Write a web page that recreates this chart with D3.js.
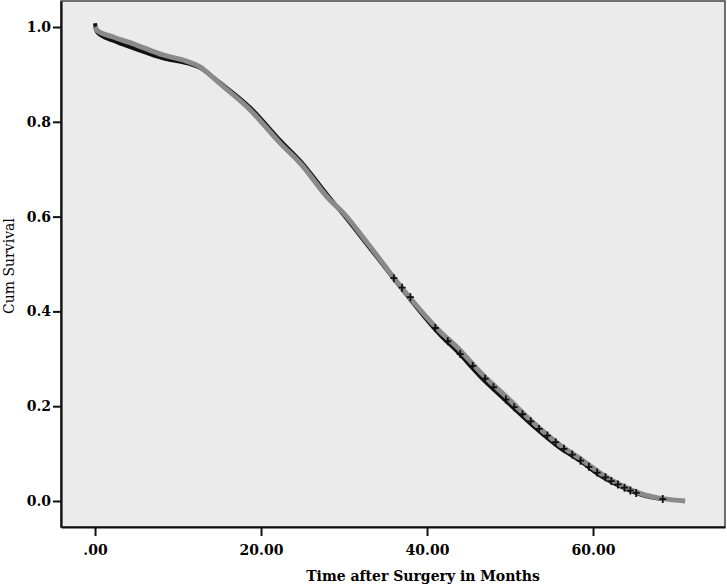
<!DOCTYPE html>
<html>
<head>
<meta charset="utf-8">
<script src="https://cdn.jsdelivr.net/npm/d3@7"></script>
<style>
  body { margin: 0; background: #fff; }
  svg { display: block; }
</style>
</head>
<body>
<div id="graph_container"></div>
<script>
// survival curves: [months, cum survival]
const grayCurve = [
  [0, 1.0], [0.3, 0.992], [2.2, 0.979], [5, 0.962], [8.2, 0.941], [11, 0.928],
  [12.65, 0.916], [14.2, 0.894], [15.1, 0.88], [18.7, 0.825], [22.3, 0.755],
  [24.7, 0.713], [28.3, 0.635], [29.8, 0.61], [33, 0.54], [36.4, 0.462],
  [41.6, 0.357], [43.6, 0.325], [46.5, 0.27], [49.6, 0.219], [53, 0.162],
  [56, 0.118], [58.4, 0.09], [61, 0.057], [63.5, 0.032], [66, 0.014],
  [68.4, 0.005], [71.1, 0.0]
];
const blackCurve = [
  [0, 1.008], [0.1, 0.996], [0.3, 0.988], [2.2, 0.971], [5, 0.953], [8.2, 0.934],
  [11, 0.924], [12.65, 0.914], [14.2, 0.894], [15.1, 0.882], [18.7, 0.83],
  [22.3, 0.761], [24.7, 0.718], [28.3, 0.639], [29.8, 0.607], [33, 0.536],
  [36.4, 0.46], [41.6, 0.35], [43.6, 0.316], [46.5, 0.261], [49.6, 0.21],
  [53, 0.155], [56, 0.112], [58.4, 0.085], [61, 0.052], [63.5, 0.029],
  [66, 0.012], [68.4, 0.004]
];
// censored cases (+ marks)
const censored = [
  [36, 0.47], [37, 0.45], [38, 0.43], [41, 0.365], [42.5, 0.337], [44, 0.31],
  [45.5, 0.285], [47, 0.258], [48, 0.24], [49.5, 0.214], [50.5, 0.198],
  [51.5, 0.183], [52.5, 0.168], [53.5, 0.152], [54.5, 0.138], [55.5, 0.124],
  [56.5, 0.11], [57.5, 0.098], [58.5, 0.085], [59.5, 0.072], [60.5, 0.06],
  [61.5, 0.05], [62.2, 0.042], [63, 0.035], [63.8, 0.028], [64.5, 0.022],
  [65.2, 0.017], [68.4, 0.004]
];
const xTicks = [0, 20, 40, 60];
const yTicks = [0, 0.2, 0.4, 0.6, 0.8, 1.0];

const W = 727, H = 588;
const box = { left: 61, right: 725, top: 1, bottom: 527 };

const svg = d3.select('#graph_container')
  .append('svg')
  .attr('width', W)
  .attr('height', H);

const xScale = d3.scaleLinear().domain([-4.1, 75.9]).range([box.left, box.right]);
const yScale = d3.scaleLinear().domain([-0.0549, 1.0549]).range([box.bottom, box.top]);

// plot background
svg.append('rect')
  .attr('x', box.left)
  .attr('y', box.top)
  .attr('width', box.right - box.left)
  .attr('height', box.bottom - box.top)
  .style('fill', '#ebebeb')
  .style('stroke', '#444')
  .style('stroke-width', 1.5);

const xAxis = d3.axisBottom(xScale)
  .tickValues(xTicks)
  .tickFormat(d => d === 0 ? '.00' : d3.format('.2f')(d))
  .tickSize(9)
  .tickSizeOuter(0);
const yAxis = d3.axisLeft(yScale)
  .tickValues(yTicks)
  .tickFormat(d3.format('.1f'))
  .tickSize(8)
  .tickSizeOuter(0);

const gx = svg.append('g')
  .attr('id', 'x-axis')
  .attr('transform', `translate(0, ${box.bottom})`)
  .call(xAxis);
const gy = svg.append('g')
  .attr('id', 'y-axis')
  .attr('transform', `translate(${box.left}, 0)`)
  .call(yAxis);

[gx, gy].forEach(g => {
  g.select('.domain').style('stroke', '#111').style('stroke-width', 2.2);
  g.selectAll('.tick line').style('stroke', '#111').style('stroke-width', 2);
  g.selectAll('.tick text')
    .style('font-family', '"DejaVu Serif", serif')
    .style('font-weight', 'bold')
    .style('font-size', '14px')
    .style('fill', '#000');
});
gx.selectAll('.tick text').attr('dy', '1.15em');
gy.selectAll('.tick text').attr('x', -10);

// curves
const line = d3.line()
  .x(d => xScale(d[0]))
  .y(d => yScale(d[1]))
  .curve(d3.curveMonotoneX);

svg.append('path')
  .datum(blackCurve)
  .attr('d', line)
  .style('fill', 'none')
  .style('stroke', '#111')
  .style('stroke-width', 4);

svg.append('path')
  .datum(grayCurve)
  .attr('d', line)
  .style('fill', 'none')
  .style('stroke', '#8a8a8a')
  .style('stroke-width', 5);

svg.selectAll('.censor')
  .data(censored)
  .enter()
  .append('path')
  .attr('class', 'censor')
  .attr('d', d => {
    const cx = xScale(d[0]), cy = yScale(d[1]);
    return `M${cx - 3.5},${cy}H${cx + 3.5}M${cx},${cy - 4}V${cy + 4}`;
  })
  .style('stroke', '#111')
  .style('stroke-width', 1.8);

// axis titles
svg.append('text')
  .text('Time after Surgery in Months')
  .attr('x', (box.left + box.right) / 2 + 30)
  .attr('y', 581)
  .style('text-anchor', 'middle')
  .style('font-family', '"DejaVu Serif", serif')
  .style('font-weight', 'bold')
  .style('font-size', '14px')
  .style('fill', '#000');

svg.append('text')
  .text('Cum Survival')
  .attr('transform', 'translate(14, 266) rotate(-90)')
  .style('text-anchor', 'middle')
  .style('font-family', '"DejaVu Serif", serif')
  .style('font-size', '14px')
  .style('fill', '#000');
</script>
</body>
</html>
